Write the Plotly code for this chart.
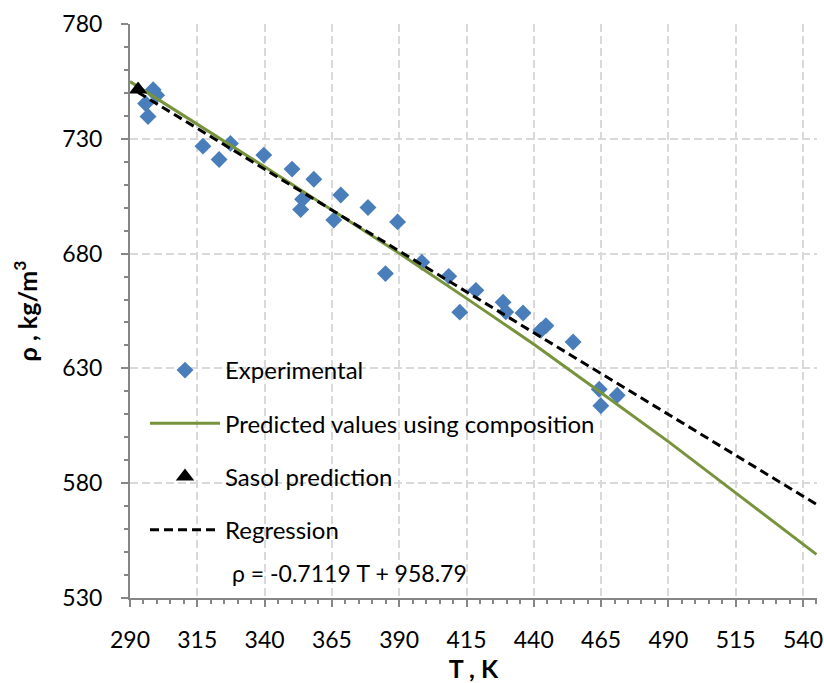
import plotly.graph_objects as go

# Measured densities of the fuel sample
exp_T = [298.6, 299.9, 295.8, 296.7, 317.1, 323.1, 327.3, 339.7, 350.2, 358.3,
         354.1, 353.4, 368.3, 365.7, 378.4, 389.4, 384.9, 398.4, 408.4, 412.5,
         418.5, 428.6, 429.6, 436.0, 442.6, 444.5, 454.6, 464.3, 464.9, 471.0]
exp_rho = [751.4, 749.0, 745.4, 739.7, 726.8, 721.0, 728.0, 722.9, 716.8, 712.4,
           703.7, 699.2, 705.5, 694.6, 700.1, 693.8, 671.3, 676.2, 670.1, 654.5,
           664.0, 658.8, 654.6, 654.1, 646.6, 648.6, 641.5, 620.9, 613.7, 618.3]

# Density predicted from the composition
pred_T = [290, 315, 340, 365, 390, 415, 440, 465, 490, 515, 545]
pred_rho = [754.9, 736.4, 717.8, 699.0, 680.2, 660.5, 640.5, 619.4, 598.1, 575.8, 549.0]

# Sasol prediction at ambient temperature
sasol_T = [293.0]
sasol_rho = [751.5]

# Linear regression of the measurements
reg_slope = -0.7119
reg_intercept = 958.79
reg_T = [293.0, 545.0]
reg_rho = [reg_slope * t + reg_intercept for t in reg_T]

FONT = "Lato"
BLUE = "#4A7EBB"
GREEN = "#77933C"

fig = go.Figure()

fig.add_trace(go.Scatter(
    x=exp_T, y=exp_rho, mode="markers", name="Experimental",
    marker=dict(symbol="diamond", size=13, color=BLUE, line=dict(width=0)),
    legendgroup="a", legendrank=1,
))
fig.add_trace(go.Scatter(
    x=pred_T, y=pred_rho, mode="lines", name="Predicted values using composition",
    line=dict(color=GREEN, width=3),
    legendgroup="b", legendrank=2,
))
fig.add_trace(go.Scatter(
    x=sasol_T, y=sasol_rho, mode="markers", name="Sasol prediction",
    marker=dict(symbol="triangle-up", size=16, color="black", line=dict(width=0)),
    legendgroup="c", legendrank=3,
))
fig.add_trace(go.Scatter(
    x=reg_T, y=reg_rho, mode="lines", name="Regression",
    line=dict(color="black", width=3, dash="9px,5px"),
    legendgroup="d", legendrank=4,
))

fig.add_annotation(
    text=f"ρ = {reg_slope} T + {reg_intercept}",
    xref="paper", yref="paper", x=(230 - 130) / 687, y=(598 - 573) / 574,
    xanchor="left", yanchor="middle", showarrow=False,
    font=dict(family=FONT, size=23, color="black"),
)

axis_common = dict(
    showline=True, linecolor="#868686", linewidth=2,
    showgrid=True, gridcolor="#D9D9D9", gridwidth=1.5, griddash="8px,4px",
    zeroline=False, ticks="outside", ticklen=7, tickwidth=2, tickcolor="#868686",
    tickfont=dict(family=FONT, size=23, color="black"),
    automargin=False,
)

fig.update_xaxes(
    **axis_common, range=[290, 545.2], tick0=290, dtick=25,
    minor=dict(tick0=290, dtick=5, ticks="outside", ticklen=4, tickwidth=1.5,
               tickcolor="#868686", showgrid=False),
    ticklabelstandoff=13,
    title=dict(text="<b>T , K</b>", font=dict(family=FONT, size=25, color="black"), standoff=8),
)
fig.update_yaxes(
    **axis_common, range=[530, 780], tick0=530, dtick=50,
    minor=dict(tick0=530, dtick=10, ticks="outside", ticklen=4, tickwidth=1.5,
               tickcolor="#868686", showgrid=False),
    ticklabelstandoff=14,
    title=dict(text="<b>ρ , kg/m<sup>3</sup></b>", font=dict(family=FONT, size=25, color="black"), standoff=18),
)

fig.update_layout(
    width=824, height=683,
    margin=dict(l=130, r=7, t=24, b=85),
    paper_bgcolor="white", plot_bgcolor="white",
    showlegend=True,
    legend=dict(
        x=(145 - 130) / 687, y=(598 - 348) / 574, xanchor="left", yanchor="top",
        bgcolor="rgba(0,0,0,0)", borderwidth=0,
        font=dict(family=FONT, size=24, color="black"),
        itemwidth=70, tracegroupgap=19,
    ),
)

fig.write_html("out.html")
